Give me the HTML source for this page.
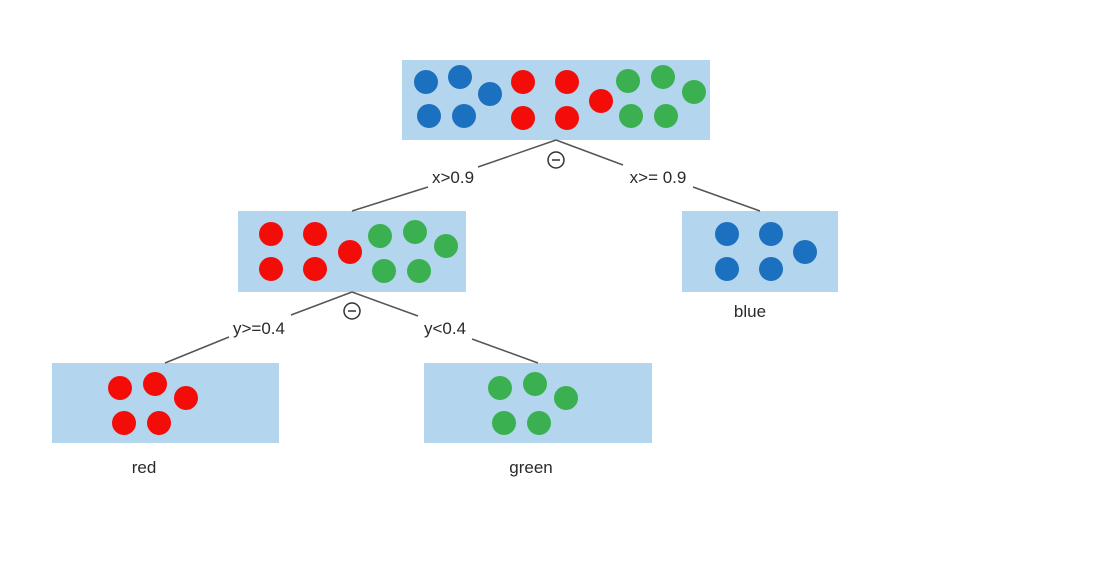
<!DOCTYPE html>
<html><head><style>body{margin:0;background:#fff}</style></head><body>
<svg width="1094" height="571" xmlns="http://www.w3.org/2000/svg" font-family="Liberation Sans, sans-serif" font-size="17" fill="#2a2a2a">
<g fill="#b3d6ee">
<rect x="402" y="60" width="308" height="80"/>
<rect x="238" y="211" width="228" height="81"/>
<rect x="682" y="211" width="156" height="81"/>
<rect x="52" y="363" width="227" height="80"/>
<rect x="424" y="363" width="228" height="80"/>
</g>
<g stroke="#555" stroke-width="1.5" fill="none">
<path d="M556 140 L478 167 M428 187 L352 211"/>
<path d="M556 140 L623 165 M693 187 L760 211"/>
<path d="M352 292 L291 315 M229 337 L165 363"/>
<path d="M352 292 L418 316 M472 339 L538 363"/>
<circle cx="556" cy="160" r="8" stroke="#333"/><path d="M552 160 H560" stroke="#333"/>
<circle cx="352" cy="311" r="8" stroke="#333"/><path d="M348 311 H356" stroke="#333"/>
</g>
<g fill="#1b70c0">
<circle cx="426" cy="82" r="12"/><circle cx="460" cy="77" r="12"/><circle cx="490" cy="94" r="12"/><circle cx="429" cy="116" r="12"/><circle cx="464" cy="116" r="12"/>
<circle cx="727" cy="234" r="12"/><circle cx="771" cy="234" r="12"/><circle cx="805" cy="252" r="12"/><circle cx="727" cy="269" r="12"/><circle cx="771" cy="269" r="12"/>
</g>
<g fill="#f40d08">
<circle cx="523" cy="82" r="12"/><circle cx="567" cy="82" r="12"/><circle cx="601" cy="101" r="12"/><circle cx="523" cy="118" r="12"/><circle cx="567" cy="118" r="12"/>
<circle cx="271" cy="234" r="12"/><circle cx="315" cy="234" r="12"/><circle cx="350" cy="252" r="12"/><circle cx="271" cy="269" r="12"/><circle cx="315" cy="269" r="12"/>
<circle cx="120" cy="388" r="12"/><circle cx="155" cy="384" r="12"/><circle cx="186" cy="398" r="12"/><circle cx="124" cy="423" r="12"/><circle cx="159" cy="423" r="12"/>
</g>
<g fill="#3bb050">
<circle cx="628" cy="81" r="12"/><circle cx="663" cy="77" r="12"/><circle cx="694" cy="92" r="12"/><circle cx="631" cy="116" r="12"/><circle cx="666" cy="116" r="12"/>
<circle cx="380" cy="236" r="12"/><circle cx="415" cy="232" r="12"/><circle cx="446" cy="246" r="12"/><circle cx="384" cy="271" r="12"/><circle cx="419" cy="271" r="12"/>
<circle cx="500" cy="388" r="12"/><circle cx="535" cy="384" r="12"/><circle cx="566" cy="398" r="12"/><circle cx="504" cy="423" r="12"/><circle cx="539" cy="423" r="12"/>
</g>
<g text-anchor="middle">
<text x="453" y="183">x&gt;0.9</text>
<text x="658" y="183">x&gt;= 0.9</text>
<text x="259" y="334">y&gt;=0.4</text>
<text x="445" y="334">y&lt;0.4</text>
<text x="750" y="317">blue</text>
<text x="144" y="473">red</text>
<text x="531" y="473">green</text>
</g>
</svg>
</body></html>
